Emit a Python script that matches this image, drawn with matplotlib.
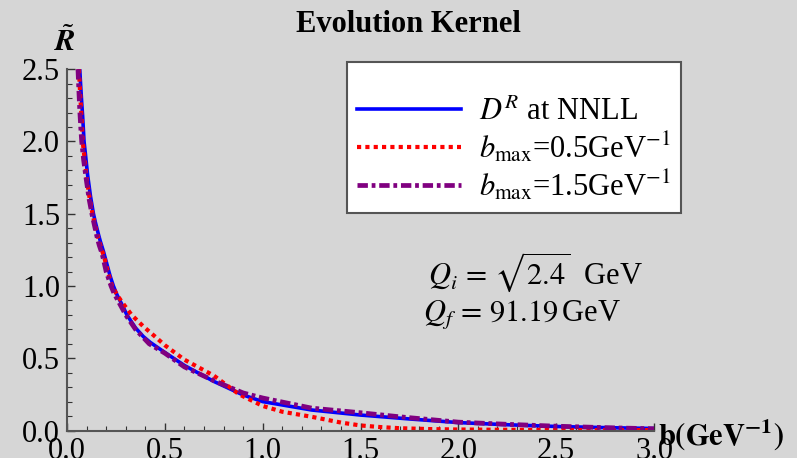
import matplotlib
matplotlib.use('Agg')
import matplotlib.pyplot as plt
from matplotlib.ticker import MultipleLocator, FormatStrFormatter
from matplotlib.patches import Rectangle

plt.rcParams['font.family'] = 'serif'
plt.rcParams['font.serif'] = ['Liberation Serif', 'DejaVu Serif']
plt.rcParams['mathtext.fontset'] = 'stix'

# evolution kernel vs impact parameter b (GeV^-1)
b_nnll = [0.065, 0.07, 0.075, 0.08, 0.087, 0.095, 0.105, 0.12, 0.135, 0.145, 0.16,
          0.17, 0.186, 0.2, 0.22, 0.237, 0.255, 0.285, 0.306, 0.35, 0.39, 0.425,
          0.5, 0.6, 0.75, 0.9, 1.0, 1.25, 1.5, 1.75, 2.0, 2.25, 2.5, 2.75, 3.0]
r_nnll = [2.5, 2.38, 2.27, 2.17, 2.0, 1.9, 1.77, 1.62, 1.5, 1.44, 1.36,
          1.31, 1.24, 1.17, 1.07, 1.0, 0.94, 0.86, 0.8, 0.71, 0.65, 0.61,
          0.54, 0.45, 0.34, 0.246, 0.2, 0.142, 0.107, 0.08, 0.055, 0.04, 0.028, 0.02, 0.014]

b_05 = [0.061, 0.065, 0.07, 0.075, 0.08, 0.09, 0.1, 0.115, 0.13, 0.145, 0.16,
        0.175, 0.19, 0.21, 0.23, 0.255, 0.28, 0.33, 0.39, 0.45, 0.5, 0.6, 0.75,
        0.88, 1.0, 1.1, 1.25, 1.4, 1.5, 1.6, 1.7, 1.85, 2.0, 2.25, 2.5, 2.75, 3.0]
r_05 = [2.5, 2.38, 2.26, 2.15, 2.0, 1.88, 1.75, 1.61, 1.5, 1.41, 1.33,
        1.26, 1.2, 1.09, 1.0, 0.94, 0.89, 0.8, 0.72, 0.65, 0.59, 0.49, 0.38,
        0.25, 0.17, 0.13, 0.095, 0.055, 0.035, 0.024, 0.016, 0.01, 0.007, 0.005, 0.004, 0.003, 0.003]

b_15 = [0.056, 0.06, 0.065, 0.07, 0.075, 0.085, 0.1, 0.113, 0.127, 0.14, 0.155,
        0.165, 0.18, 0.2, 0.225, 0.24, 0.26, 0.30, 0.35, 0.42, 0.5, 0.6, 0.75,
        0.9, 1.0, 1.25, 1.5, 1.7, 2.0, 2.25, 2.5, 2.75, 3.0]
r_15 = [2.5, 2.37, 2.22, 2.1, 2.0, 1.87, 1.72, 1.6, 1.5, 1.42, 1.33,
        1.28, 1.22, 1.1, 1.0, 0.95, 0.9, 0.8, 0.7, 0.6, 0.535, 0.44, 0.345,
        0.26, 0.225, 0.155, 0.123, 0.095, 0.058, 0.043, 0.03, 0.02, 0.012]

bg = '#d6d6d6'
red_ls = (0, (1, 1))
purple_ls = (0, (2.2, 0.8, 0.8, 0.8))

fig = plt.figure(figsize=(7.97, 4.58), dpi=100, facecolor=bg)
ax = fig.add_axes([0.0841, 0.060, 0.7365, 0.789], facecolor=bg)

ax.plot(b_nnll, r_nnll, color='#0000ff', lw=2.6, solid_capstyle='butt')
ax.plot(b_05, r_05, color='#ff0000', lw=3.0, linestyle=red_ls)
ax.plot(b_15, r_15, color='#800080', lw=3.4, linestyle=purple_ls)

ax.set_xlim(0, 3.0)
ax.set_ylim(0, 2.5)
for s in ['top', 'right']:
    ax.spines[s].set_visible(False)
for s in ['left', 'bottom']:
    ax.spines[s].set_color('#555555')
    ax.spines[s].set_linewidth(1.5)

ax.xaxis.set_major_locator(MultipleLocator(0.5))
ax.xaxis.set_minor_locator(MultipleLocator(0.1))
ax.yaxis.set_major_locator(MultipleLocator(0.5))
ax.yaxis.set_minor_locator(MultipleLocator(0.1))
ax.xaxis.set_major_formatter(FormatStrFormatter('%.1f'))
ax.yaxis.set_major_formatter(FormatStrFormatter('%.1f'))
ax.tick_params(which='both', direction='in', colors='#333333', labelcolor='black', labelsize=22)
ax.tick_params(which='major', length=6, width=1.0, pad=5)
ax.tick_params(which='minor', length=3.5, width=0.8)

fig.text(408 / 797, 1 - 25 / 458, 'Evolution Kernel', fontsize=22,
         fontweight='bold', ha='center', va='center')
fig.text(0.082, 0.908, r'$\tilde{\mathbfit{R}}$', fontsize=22, ha='center', va='center')
fig.text(0.826, 0.05, r'$\mathbf{b(GeV^{-1})}$', fontsize=22, ha='left', va='center')

# legend box
fig.patches.append(Rectangle((347 / 797, 1 - 213 / 458), 334 / 797, 151 / 458,
                             transform=fig.transFigure, facecolor='white',
                             edgecolor='#555555', lw=1.5, zorder=3))
h1, = ax.plot([], [], color='#0000ff', lw=2.6)
h2, = ax.plot([], [], color='#ff0000', lw=3.0, linestyle=red_ls)
h3, = ax.plot([], [], color='#800080', lw=3.4, linestyle=purple_ls)
leg = fig.legend([h1, h2, h3],
                 [r'$D^R$ at NNLL',
                  r'$b_{\rm max}$=0.5GeV$^{-1}$',
                  r'$b_{\rm max}$=1.5GeV$^{-1}$'],
                 loc='upper left', bbox_to_anchor=(357 / 797, 1 - 97 / 458),
                 frameon=False, fontsize=22, handlelength=3.4, handletextpad=0.6,
                 labelspacing=0.12, borderpad=0.0, borderaxespad=0.0)
leg.set_zorder(4)

fig.text(536 / 797, 1 - 272 / 458, r'$Q_i\, =\, \sqrt{2.4}$  GeV',
         fontsize=22, ha='center', va='center')
fig.text(522 / 797, 1 - 314 / 458, r'$Q_f\, =\, 91.19\,$GeV',
         fontsize=22, ha='center', va='center')

fig.savefig('out.png', dpi=100, facecolor=bg)
